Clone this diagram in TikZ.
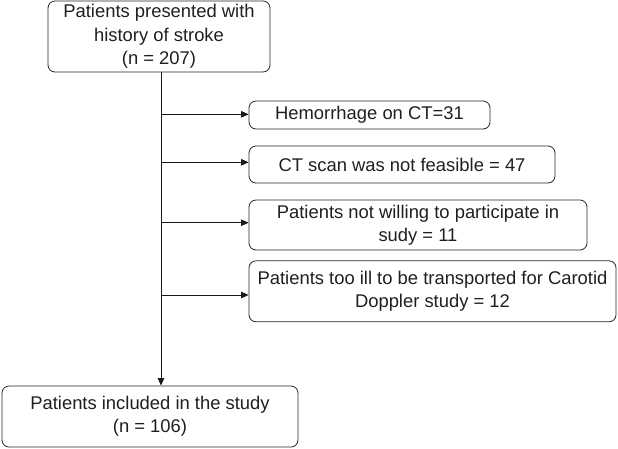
\documentclass[tikz,border=0pt]{standalone}
\usepackage{fontspec}
\setmainfont{Liberation Sans}
\usetikzlibrary{arrows.meta}
\begin{document}
\begin{tikzpicture}[x=1pt,y=-1pt,
  flowbox/.style={draw=black!85,line width=0.8pt,rounded corners=7pt,inner sep=0pt,
    align=center,text=black!88,font=\fontsize{18.4}{23.3}\selectfont},
  conn/.style={draw=black!90,line width=0.8pt},
  tip/.style={-{Triangle[length=7.5pt,width=6.5pt]}}]
\useasboundingbox (0,0) rectangle (618,448);
\node[flowbox,minimum width=222pt,minimum height=71pt] (top) at (159,36.5)
  {Patients presented with\\history of stroke\\(n = 207)};
\node[flowbox,minimum width=241pt,minimum height=28pt] (b1) at (369.5,115)
  {Hemorrhage on CT=31};
\node[flowbox,minimum width=306pt,minimum height=37pt] (b2) at (402,164.5)
  {CT scan was not feasible = 47};
\node[flowbox,minimum width=338pt,minimum height=50pt] (b3) at (418,225)
  {Patients not willing to participate in\\sudy = 11};
\node[flowbox,minimum width=367pt,minimum height=61pt] (b4) at (432.5,291.3)
  {Patients too ill to be transported for Carotid\\Doppler study = 12};
\node[flowbox,minimum width=296pt,minimum height=61pt] (bot) at (150,416.5)
  {Patients included in the study\\(n = 106)};
\coordinate (vt) at (161,72);
\coordinate (c1) at (161,114.3);
\coordinate (c2) at (161,162.3);
\coordinate (c3) at (161,222.7);
\coordinate (c4) at (161,295);
\draw[conn,tip] (top.south -| vt) -- (bot.north -| vt);
\draw[conn,tip] (c1) -- (c1 -| b1.west);
\draw[conn,tip] (c2) -- (c2 -| b2.west);
\draw[conn,tip] (c3) -- (c3 -| b3.west);
\draw[conn,tip] (c4) -- (c4 -| b4.west);
\end{tikzpicture}
\end{document}
